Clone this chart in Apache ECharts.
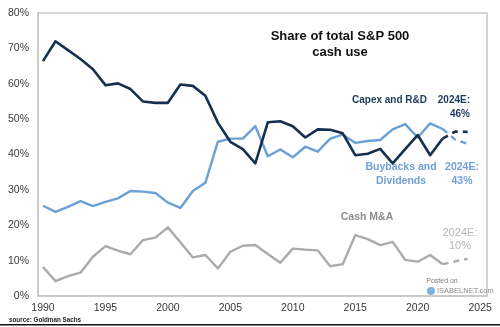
<!DOCTYPE html>
<html>
<head>
<meta charset="utf-8">
<script src="https://cdn.jsdelivr.net/npm/echarts@6/dist/echarts.min.js"></script>
<style>
html,body{margin:0;padding:0;background:#fff;}
#c{width:500px;height:327px;}
</style>
</head>
<body>
<div id="c"></div>
<script>
// ---- data ----
var years = [1990,1991,1992,1993,1994,1995,1996,1997,1998,1999,2000,2001,2002,2003,2004,2005,2006,2007,2008,2009,2010,2011,2012,2013,2014,2015,2016,2017,2018,2019,2020,2021,2022];
var capex = [66.4,72.0,69.5,67.0,64.1,59.6,60.1,58.5,55.0,54.6,54.6,59.8,59.4,56.6,49.0,43.6,41.5,37.5,49.1,49.4,48.0,44.8,47.1,47.0,46.0,39.8,40.2,41.6,37.5,41.5,45.5,39.8,44.5];
var buybacks = [25.5,23.8,25.2,26.8,25.4,26.6,27.6,29.7,29.5,29.1,26.4,24.9,29.7,32.0,43.6,44.5,44.5,48.0,39.5,41.4,39.2,42.2,40.8,44.5,45.6,43.3,43.8,44.1,47.1,48.6,44.8,48.8,47.2];
var mna = [8.2,4.2,5.6,6.6,11.1,14.1,12.8,11.8,15.8,16.5,19.4,15.2,10.9,11.6,7.8,12.5,14.2,14.4,11.9,9.4,13.4,13.1,12.9,8.4,9.0,17.2,16.1,14.4,15.3,10.2,9.7,11.6,9.0];
var estYears = [2022,2023,2024];
var capexEst = [44.5,46.5,46.4];
var buybacksEst = [47.2,44.2,43.0];
var mnaEst = [9.0,9.8,10.5];
var xTicks = [1990,1995,2000,2005,2010,2015,2020,2025];
var yTicks = [0,10,20,30,40,50,60,70,80];

function pairs(xs, ys){ return xs.map(function(x,i){ return [x, ys[i]]; }); }

var C_DARK = '#15304f', C_BLUE = '#6b9fd6', C_GRAY = '#ababab';
var FF = '"Liberation Sans", Arial, sans-serif';

var chart = echarts.init(document.getElementById('c'), null, {renderer:'canvas'});
chart.setOption({
  animation:false,
  backgroundColor:'#fff',
  grid:{left:38, right:13, top:13, bottom:31, show:true, borderColor:'#c6c6c6', borderWidth:1.5},
  xAxis:{
    type:'value', min:1989.6, max:2025.55,
    splitLine:{show:false},
    axisLine:{show:true, lineStyle:{color:'#c6c6c6', width:1.5}},
    axisTick:{show:false},
    axisLabel:{customValues:xTicks, color:'#3a3a3a', fontSize:10.5, fontFamily:FF, margin:7, formatter:function(v){return String(v);}}
  },
  yAxis:{
    type:'value', min:0, max:80, interval:10,
    splitLine:{show:false},
    axisLine:{show:true, lineStyle:{color:'#c6c6c6', width:1.5}},
    axisTick:{show:false},
    axisLabel:{color:'#3a3a3a', fontSize:10.5, fontFamily:FF, margin:9, formatter:'{value}%'}
  },
  series:[
    {type:'line', data:pairs(years,mna), symbol:'none', lineStyle:{color:C_GRAY,width:2.4,join:'round'}, z:2},
    {type:'line', data:pairs(estYears,mnaEst), symbol:'none', lineStyle:{color:C_GRAY,width:2.4,type:[6,5]}, z:2},
    {type:'line', data:pairs(years,buybacks), symbol:'none', lineStyle:{color:C_BLUE,width:2.4,join:'round'}, z:3},
    {type:'line', data:pairs(estYears,buybacksEst), symbol:'none', lineStyle:{color:C_BLUE,width:2.4,type:[6,5]}, z:3},
    {type:'line', data:pairs(years,capex), symbol:'none', lineStyle:{color:C_DARK,width:2.6,join:'round'}, z:4},
    {type:'line', data:pairs(estYears,capexEst), symbol:'none', lineStyle:{color:C_DARK,width:2.6,type:[6,5]}, z:4}
  ],
  graphic:[
    {type:'text', left:'auto', x:340, y:29, style:{text:'Share of total S&P 500\ncash use', fill:'#111', font:'bold 13px '+FF, align:'center', verticalAlign:'top', lineHeight:15.5}},
    {type:'text', x:352, y:100, style:{text:'Capex and R&D', fill:'#1c3a5e', font:'bold 10px '+FF, align:'left', verticalAlign:'middle'}},
    {type:'text', x:470, y:93, style:{text:'2024E:\n46%', fill:'#1c3a5e', font:'bold 10px '+FF, align:'right', verticalAlign:'top', lineHeight:14}},
    {type:'text', x:401, y:160, style:{text:'Buybacks and\nDividends', fill:'#6fa0d6', font:'bold 10.5px '+FF, align:'center', verticalAlign:'top', lineHeight:14}},
    {type:'text', x:462, y:160, style:{text:'2024E:\n43%', fill:'#6fa0d6', font:'bold 10.5px '+FF, align:'center', verticalAlign:'top', lineHeight:14}},
    {type:'text', x:367, y:217, style:{text:'Cash M&A', fill:'#8e8e8e', font:'bold 10.5px '+FF, align:'center', verticalAlign:'middle'}},
    {type:'text', x:460, y:226, style:{text:'2024E:\n10%', fill:'#b5b5b5', font:'11px '+FF, align:'center', verticalAlign:'top', lineHeight:13.5}},
    {type:'text', x:442, y:281, style:{text:'Posted on', fill:'#7a7a7a', font:'7px '+FF, align:'center', verticalAlign:'middle'}},
    {type:'circle', shape:{cx:431, cy:291, r:4}, style:{fill:'#7fb3d9'}},
    {type:'text', x:437, y:291, style:{text:'ISABELNET.com', fill:'#8a8a8a', font:'7.5px '+FF, align:'left', verticalAlign:'middle'}},
    {type:'text', x:9, y:320.5, style:{text:'source: Goldman Sachs', fill:'#222', font:'bold 6.3px '+FF, align:'left', verticalAlign:'middle'}},
    {type:'line', shape:{x1:0, y1:324.8, x2:500, y2:324.8}, style:{stroke:'#111', lineWidth:1.5}}
  ]
});
</script>
</body>
</html>
